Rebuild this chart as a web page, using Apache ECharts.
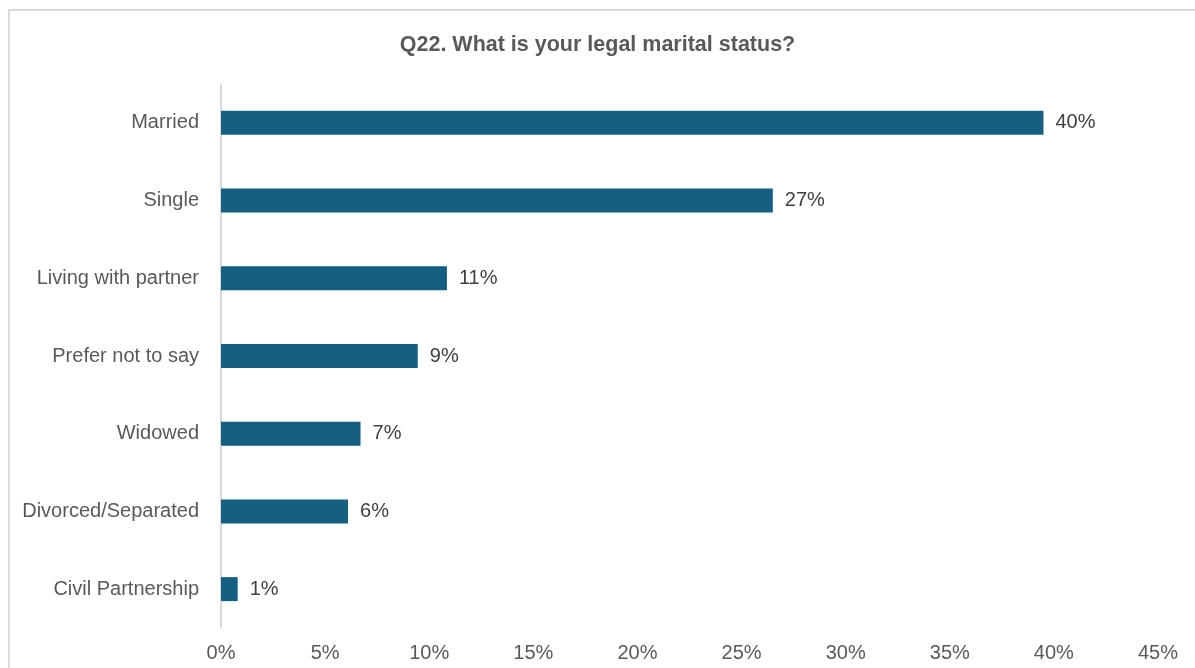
<!DOCTYPE html>
<html>
<head>
<meta charset="utf-8">
<script src="https://cdn.jsdelivr.net/npm/echarts@6/dist/echarts.min.js"></script>
<style>
  html, body { margin: 0; padding: 0; background: #fff; }
  #chart { width: 1195px; height: 668px; }
</style>
</head>
<body>
<div id="chart"></div>
<script>
// Survey answers, top to bottom
const categories = ['Married', 'Single', 'Living with partner', 'Prefer not to say', 'Widowed', 'Divorced/Separated', 'Civil Partnership'];
// Share of respondents (%)
const shares = [39.5, 26.5, 10.85, 9.45, 6.7, 6.1, 0.8];
// Value axis range and step (%)
const axisMax = 45;
const axisStep = 5;

const textColor = '#595959';
const fontFamily = '"Liberation Sans", Arial, sans-serif';

const chart = echarts.init(document.getElementById('chart'));
chart.setOption({
  animation: false,
  title: {
    text: 'Q22. What is your legal marital status?',
    left: 'center',
    top: 29,
    textStyle: { color: textColor, fontSize: 21.5, fontWeight: 'bold', fontFamily }
  },
  graphic: [{
    type: 'rect',
    shape: { x: 9, y: 10, width: 1200, height: 700 },
    style: { fill: 'none', stroke: '#d9d9d9', lineWidth: 2 },
    silent: true
  }],
  grid: { left: 221, right: 37, top: 84, bottom: 40, containLabel: false },
  xAxis: {
    type: 'value',
    min: 0,
    max: axisMax,
    interval: axisStep,
    axisLine: { show: false },
    axisTick: { show: false },
    splitLine: { show: false },
    axisLabel: {
      color: textColor, fontSize: 20, fontFamily, margin: 15,
      formatter: v => v + '%'
    }
  },
  yAxis: {
    type: 'category',
    data: categories,
    inverse: true,
    axisLine: { show: true, lineStyle: { color: '#d9d9d9', width: 2 } },
    axisTick: { show: false },
    axisLabel: { color: textColor, fontSize: 20, fontFamily, margin: 22 }
  },
  series: [{
    type: 'bar',
    data: shares,
    barWidth: 24,
    itemStyle: { color: '#156082' },
    label: {
      show: true,
      position: 'right',
      distance: 12,
      color: '#404040',
      fontSize: 20,
      fontFamily,
      formatter: p => Math.round(p.value) + '%'
    }
  }]
});
</script>
</body>
</html>
